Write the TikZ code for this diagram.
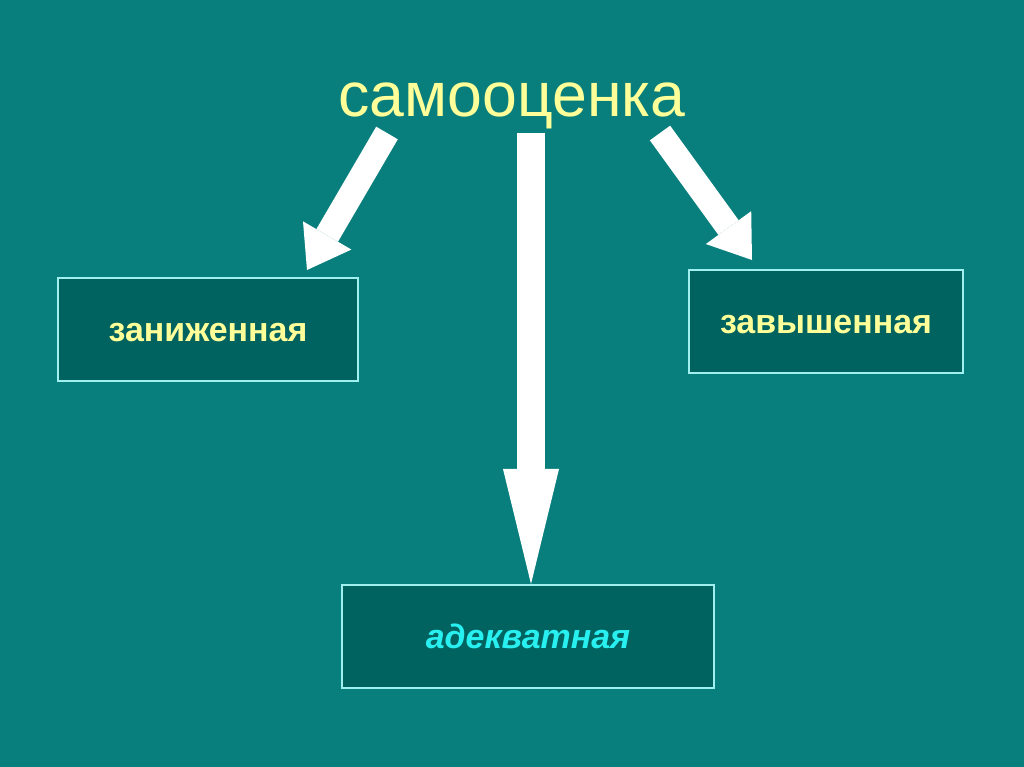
\documentclass[tikz,border=0pt]{standalone}
\usepackage{fontspec}
\setmainfont{Liberation Sans}
\usepackage{tikz}
\usetikzlibrary{arrows.meta}
\usetikzlibrary{positioning}
\definecolor{bgteal}{RGB}{8,127,124}
\definecolor{boxteal}{RGB}{0,99,96}
\definecolor{rimcyan}{RGB}{160,240,240}
\definecolor{titleyellow}{RGB}{255,255,153}
\definecolor{adeqcyan}{RGB}{40,240,240}
\newcommand*{\picW}{1024}
\newcommand*{\picH}{767}

\begin{document}
\begin{tikzpicture}[x=0.01cm,y=-0.01cm,
	gradebox/.style={rectangle,draw=rimcyan,line width=0.015cm,fill=boxteal,minimum height=1.03cm,inner sep=0pt,text height=1.3ex,text depth=0pt,font=\fontsize{9.65pt}{12pt}\selectfont\bfseries,text=titleyellow},
	fatarrow/.style={draw=white,line width=0.25cm,-{Triangle[length=0.40cm,width=0.56cm,line width=0pt]}}]
	\fill[bgteal] (0,0) rectangle (\picW,\picH);
	\useasboundingbox (0,0) rectangle (\picW,\picH);
	\node[anchor=base,text=titleyellow,font=\fontsize{17.8pt}{22pt}\selectfont,inner sep=0pt] (title) at (512,117) {самооценка};
	\node[gradebox,minimum width=3.00cm] (low) at (208,329.5) {заниженная};
	\node[gradebox,minimum width=2.74cm] (high) at (826,321.5) {завышенная};
	\node[gradebox,minimum width=3.72cm,font=\fontsize{9.65pt}{12pt}\selectfont\bfseries\itshape,text=adeqcyan] (adequate) at (528,636.5) {адекватная};
	\coordinate (lowStart) at (387,133);
	\coordinate (lowTip) at (307,270);
	\coordinate (midStart) at (531,133);
	\coordinate (midTip) at (531,584);
	\coordinate (highStart) at (660,133);
	\coordinate (highTip) at (752,260);
	\draw[fatarrow] (lowStart) -- (lowTip);
	\draw[fatarrow] (highStart) -- (highTip);
	\draw[fatarrow,line width=0.28cm,-{Triangle[length=1.15cm,width=0.56cm,line width=0pt]}] (midStart) -- (midTip);
\end{tikzpicture}
\end{document}
